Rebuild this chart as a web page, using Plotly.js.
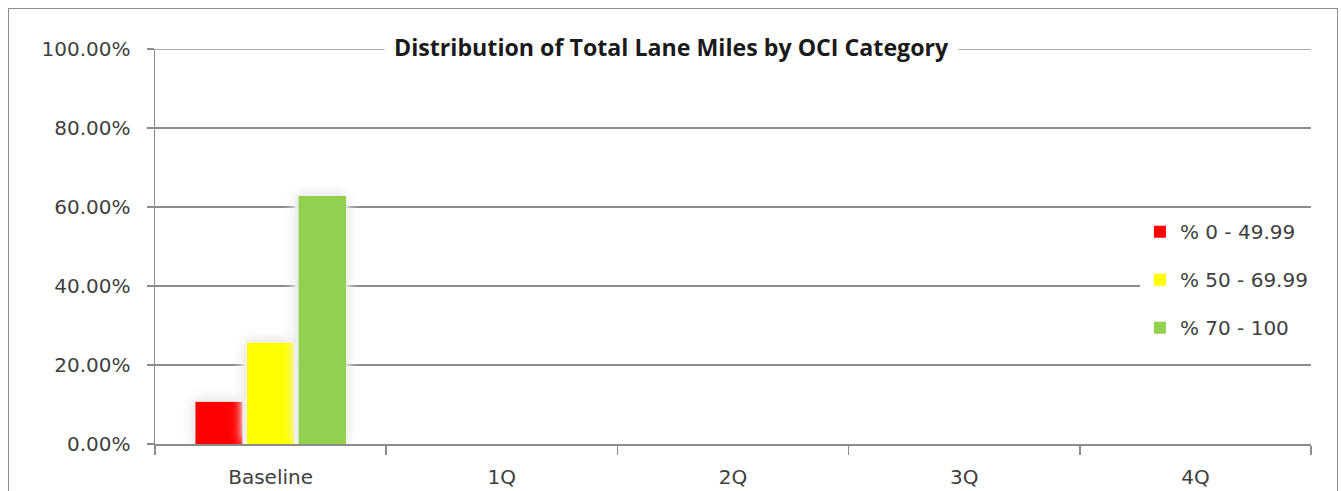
<!DOCTYPE html>
<html>
<head>
<meta charset="utf-8">
<script src="https://cdn.plot.ly/plotly-3.0.1.min.js"></script>
<style>
  html, body { margin: 0; padding: 0; background: #ffffff; overflow: hidden; }
  #frame {
    position: absolute; left: 8px; top: 8px; width: 1328px; height: 600px;
    border: 1.5px solid #8c8c8c; border-bottom: none;
  }
  #chart { position: absolute; left: 0; top: 0; width: 1341px; height: 491px; }
</style>
</head>
<body>
<div id="frame"></div>
<div id="chart"></div>
<script>
// Periods along the horizontal axis
const periods = ['Baseline', '1Q', '2Q', '3Q', '4Q'];

// Share of total lane miles per OCI band (only the baseline is filled in)
const pctPoor = [0.107, null, null, null, null];   // % 0 - 49.99
const pctFair = [0.257, null, null, null, null];   // % 50 - 69.99
const pctGood = [0.628, null, null, null, null];   // % 70 - 100

const seriesNames = ['% 0 - 49.99', '% 50 - 69.99', '% 70 - 100'];
const seriesColors = ['#ff0000', '#ffff00', '#92d050'];
const yTicks = [0, 0.2, 0.4, 0.6, 0.8, 1.0];

const chartTitle = 'Distribution of Total Lane Miles by OCI Category';

const seriesValues = [pctPoor, pctFair, pctGood];
const traces = seriesValues.map((vals, i) => ({
  type: 'bar',
  name: seriesNames[i],
  x: periods,
  y: vals,
  marker: { color: seriesColors[i], line: { width: 0 } },
  legendgroup: 'g' + i,
  hoverinfo: 'skip'
}));

const tickFont = { family: 'DejaVu Sans, Verdana, sans-serif', size: 20, color: '#404040' };
const gridGray = '#8c8c8c';

const layout = {
  width: 1341,
  height: 491,
  margin: { l: 155, r: 30, t: 49, b: 47 },
  paper_bgcolor: 'rgba(0,0,0,0)',
  plot_bgcolor: 'rgba(0,0,0,0)',
  barmode: 'group',
  bargap: 0.33,
  bargroupgap: 0.08,
  showlegend: true,
  legend: {
    x: 0.852, xanchor: 'left',
    y: 0.587, yanchor: 'top',
    bgcolor: '#ffffff',
    font: tickFont,
    traceorder: 'grouped',
    tracegroupgap: 19,
    itemclick: false
  },
  xaxis: {
    type: 'category',
    tickson: 'boundaries',
    ticks: 'outside',
    ticklen: 9,
    tickwidth: 1.5,
    tickcolor: gridGray,
    showline: true,
    linecolor: gridGray,
    linewidth: 1.5,
    showgrid: false,
    tickfont: tickFont,
    ticklabelstandoff: 14,
    fixedrange: true
  },
  yaxis: {
    range: [0, 1],
    tickvals: yTicks,
    tickformat: '.2%',
    ticks: 'outside',
    ticklen: 7,
    tickwidth: 1.5,
    tickcolor: gridGray,
    showline: true,
    linecolor: gridGray,
    linewidth: 1.5,
    showgrid: true,
    gridcolor: gridGray,
    gridwidth: 1.5,
    zeroline: false,
    tickfont: tickFont,
    ticklabelstandoff: 12,
    fixedrange: true
  },
  shapes: [{
    // top gridline at 100%, broken by the title box
    type: 'line', xref: 'paper', yref: 'y',
    x0: 0, x1: 1, y0: 1, y1: 1,
    line: { color: gridGray, width: 1.5 },
    layer: 'below'
  }],
  annotations: [{
    text: '<b>' + chartTitle + '</b>',
    xref: 'paper', yref: 'paper',
    x: 0.447, y: 1,
    xanchor: 'center', yanchor: 'middle',
    yshift: 2,
    showarrow: false,
    bgcolor: '#ffffff',
    borderpad: 9,
    font: { family: 'Open Sans, sans-serif', size: 23.2, color: '#1a1a1a' }
  }]
};

// Adds a soft light-gray halo behind each column
function addBarGlow(gd) {
  const NS = 'http://www.w3.org/2000/svg';
  const make = (tag, attrs) => {
    const el = document.createElementNS(NS, tag);
    Object.entries(attrs).forEach(([k, v]) => el.setAttribute(k, v));
    return el;
  };
  const svg = gd.querySelector('.main-svg');
  let defs = svg.querySelector('defs');
  if (!defs) { defs = make('defs', {}); svg.insertBefore(defs, svg.firstChild); }
  const f = make('filter', { id: 'barGlow', filterUnits: 'userSpaceOnUse', x: 0, y: 0, width: 1341, height: 491 });
  f.appendChild(make('feGaussianBlur', { in: 'SourceAlpha', stdDeviation: 7, result: 'blur' }));
  f.appendChild(make('feOffset', { in: 'blur', dx: -1, dy: -1, result: 'off' }));
  const ct = make('feComponentTransfer', { in: 'off', result: 'halo' });
  ct.appendChild(make('feFuncA', { type: 'linear', slope: 2.2 }));
  f.appendChild(ct);
  f.appendChild(make('feFlood', { 'flood-color': '#eeeeee', result: 'tint' }));
  f.appendChild(make('feComposite', { in: 'tint', in2: 'halo', operator: 'in', result: 'shadow' }));
  const merge = make('feMerge', {});
  merge.appendChild(make('feMergeNode', { in: 'shadow' }));
  merge.appendChild(make('feMergeNode', { in: 'SourceGraphic' }));
  f.appendChild(merge);
  defs.appendChild(f);
  gd.querySelectorAll('.barlayer .point path').forEach(p => p.setAttribute('filter', 'url(#barGlow)'));
}

Plotly.newPlot('chart', traces, layout, { displayModeBar: false, staticPlot: true })
  .then(addBarGlow);
</script>
</body>
</html>
